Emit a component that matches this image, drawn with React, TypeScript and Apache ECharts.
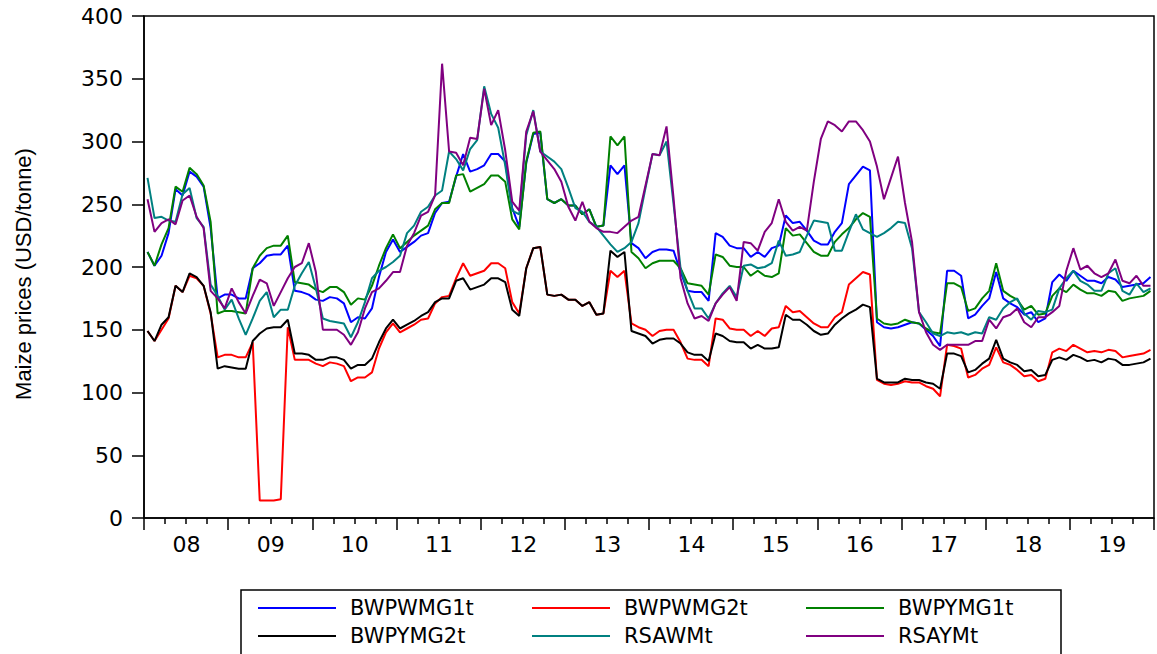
import React, { useEffect, useRef } from "react";
import * as echarts from "echarts";

// Monthly maize prices, Jan 2008 - Dec 2019 (USD/tonne)
const yearLabels = ["08", "09", "10", "11", "12", "13", "14", "15", "16", "17", "18", "19"];

const BWPWMG1t = [
  212, 201, 209, 227, 262, 257, 276, 272, 264, 231, 175, 178,
  178, 175, 175, 199, 203, 209, 210, 210, 217, 181, 180, 178,
  174, 173, 176, 175, 171, 156, 160, 159, 167, 192, 212, 222,
  212, 216, 220, 225, 227, 243, 251, 252, 272, 290, 276, 278,
  281, 290, 290, 284, 247, 232, 283, 306, 307, 254, 251, 254,
  249, 249, 242, 246, 232, 233, 281, 274, 281, 219, 215, 207,
  212, 214, 214, 213, 196, 181, 180, 180, 173, 227, 224, 217,
  215, 215, 208, 212, 208, 215, 217, 241, 235, 236, 229, 221,
  218, 218, 228, 235, 266, 273, 280, 277, 156, 152, 151, 152,
  154, 156, 155, 150, 145, 137, 197, 197, 193, 159, 162, 169,
  175, 196, 175, 171, 168, 162, 164, 156, 159, 188, 194, 189,
  197, 193, 189, 189, 187, 192, 190, 184, 185, 186, 187, 192,
];

const BWPWMG2t = [
  149, 141, 150, 159, 185, 180, 193, 191, 185, 163, 128, 130,
  130, 128, 128, 140, 14, 14, 14, 15, 152, 126, 126, 126,
  123, 121, 124, 123, 121, 109, 112, 112, 116, 135, 148, 155,
  148, 151, 154, 158, 159, 171, 176, 177, 191, 203, 193, 195,
  197, 203, 203, 199, 172, 163, 199, 215, 216, 178, 177, 178,
  174, 174, 169, 172, 162, 163, 197, 192, 197, 155, 152, 150,
  145, 149, 150, 150, 140, 127, 126, 126, 121, 159, 158, 151,
  150, 150, 145, 149, 145, 151, 152, 169, 164, 165, 160, 155,
  152, 152, 160, 164, 186, 191, 196, 194, 110, 107, 106, 107,
  109, 108, 108, 105, 103, 97, 138, 137, 135, 112, 114, 119,
  122, 136, 124, 122, 118, 113, 114, 109, 111, 132, 135, 133,
  138, 135, 132, 133, 132, 134, 133, 128, 129, 130, 131, 134,
];

const BWPYMG1t = [
  212, 201, 218, 231, 264, 260, 279, 274, 265, 236, 163, 165,
  165, 164, 163, 199, 209, 215, 217, 217, 225, 188, 187, 186,
  182, 180, 184, 184, 180, 170, 175, 174, 185, 201, 215, 226,
  215, 220, 225, 229, 233, 246, 251, 251, 273, 274, 260, 263,
  266, 273, 273, 268, 238, 230, 284, 307, 308, 254, 251, 254,
  249, 249, 242, 246, 232, 233, 304, 297, 304, 212, 207, 199,
  203, 205, 205, 205, 199, 187, 186, 185, 178, 210, 208, 201,
  200, 200, 193, 197, 193, 192, 195, 231, 225, 226, 219, 212,
  209, 209, 220, 226, 231, 238, 243, 240, 159, 155, 154, 155,
  158, 156, 155, 151, 148, 147, 187, 187, 184, 165, 167, 175,
  181, 203, 181, 177, 174, 166, 169, 162, 163, 177, 183, 180,
  186, 182, 179, 179, 177, 181, 180, 173, 175, 176, 177, 181,
];

const BWPYMG2t = [
  149, 141, 154, 160, 185, 180, 195, 192, 185, 164, 119, 121,
  120, 119, 119, 141, 147, 151, 152, 152, 158, 131, 131, 130,
  126, 126, 128, 128, 126, 119, 122, 122, 127, 140, 151, 158,
  151, 154, 157, 161, 164, 172, 175, 175, 189, 191, 182, 184,
  186, 191, 191, 188, 166, 161, 199, 215, 216, 178, 177, 178,
  174, 174, 169, 172, 162, 163, 213, 208, 212, 149, 147, 145,
  139, 142, 143, 143, 139, 132, 130, 130, 125, 147, 145, 141,
  140, 140, 135, 138, 135, 135, 136, 162, 158, 158, 154, 149,
  146, 147, 154, 159, 163, 166, 170, 168, 111, 108, 108, 108,
  111, 110, 110, 108, 107, 103, 131, 131, 129, 116, 118, 123,
  127, 142, 127, 124, 122, 117, 118, 113, 114, 126, 128, 126,
  130, 128, 125, 126, 124, 127, 126, 122, 122, 123, 124, 127,
];

const RSAWMt = [
  271, 239, 240, 237, 236, 258, 263, 239, 232, 186, 177, 166,
  174, 159, 146, 159, 173, 180, 160, 166, 166, 185, 195, 204,
  183, 159, 157, 156, 155, 144, 156, 172, 191, 197, 200, 204,
  209, 227, 233, 244, 248, 257, 261, 292, 286, 277, 294, 301,
  344, 322, 311, 281, 245, 242, 305, 325, 292, 288, 284, 278,
  263, 247, 244, 236, 232, 225, 218, 212, 215, 220, 235, 263,
  290, 289, 300, 250, 199, 181, 167, 167, 159, 171, 179, 185,
  176, 201, 202, 199, 200, 203, 221, 209, 210, 212, 225, 237,
  236, 235, 213, 213, 228, 242, 230, 227, 224, 227, 231, 236,
  235, 215, 164, 156, 147, 145, 148, 147, 148, 146, 148, 147,
  160, 158, 167, 172, 175, 163, 158, 165, 164, 166, 183, 191,
  197, 189, 186, 181, 181, 195, 199, 181, 178, 187, 180, 183,
];

const RSAYMt = [
  254, 228, 235, 238, 234, 253, 257, 240, 231, 181, 175, 167,
  183, 172, 163, 177, 190, 187, 169, 180, 191, 200, 203, 219,
  196, 150, 150, 150, 146, 138, 148, 167, 180, 183, 189, 196,
  196, 217, 227, 241, 244, 257, 362, 292, 291, 281, 303, 302,
  342, 313, 325, 293, 252, 245, 308, 324, 292, 285, 278, 268,
  248, 237, 252, 236, 231, 228, 228, 227, 232, 237, 240, 265,
  290, 289, 312, 255, 191, 171, 159, 161, 157, 171, 178, 184,
  173, 220, 219, 213, 228, 235, 254, 236, 229, 232, 229, 268,
  302, 316, 313, 308, 316, 316, 309, 300, 280, 254, 271, 288,
  251, 220, 164, 148, 138, 134, 138, 138, 138, 138, 141, 141,
  158, 151, 160, 162, 167, 156, 152, 160, 160, 164, 169, 197,
  215, 198, 201, 195, 192, 195, 206, 189, 187, 193, 185, 185,
];

const seriesNames = ["BWPWMG1t", "BWPWMG2t", "BWPYMG1t", "BWPYMG2t", "RSAWMt", "RSAYMt"];
const seriesValues = [BWPWMG1t, BWPWMG2t, BWPYMG1t, BWPYMG2t, RSAWMt, RSAYMt];
const seriesColors = ["#0000ff", "#ff0000", "#008000", "#000000", "#008080", "#800080"];

const FONT_NUM = "'DejaVu Sans', sans-serif";
const FONT_TXT = "'Liberation Sans', Arial, sans-serif";

export default function App() {
  const ref = useRef<HTMLDivElement>(null);

  useEffect(() => {
    if (!ref.current) return;
    const chart = echarts.init(ref.current, undefined, { renderer: "svg" });

    const series = seriesValues.map((vals, k) => ({
      name: seriesNames[k],
      type: "line",
      data: vals.map((v, i) => [i + 0.5, v]),
      showSymbol: false,
      symbol: "none",
      clip: true,
      lineStyle: { color: seriesColors[k], width: 2 },
      itemStyle: { color: seriesColors[k] },
      z: 2 + k,
    }));

    // legend drawn as box with samples
    const colX = [258, 532, 806];
    const rowY = [608, 636];
    const legendChildren: any[] = [
      {
        type: "rect",
        shape: { x: 241, y: 590, width: 820, height: 75 },
        style: { fill: "#fff", stroke: "#000", lineWidth: 1.5 },
      },
    ];
    seriesNames.forEach((name, k) => {
      const cx = colX[k % 3];
      const cy = rowY[Math.floor(k / 3)];
      legendChildren.push({
        type: "line",
        shape: { x1: cx, y1: cy, x2: cx + 78, y2: cy },
        style: { stroke: seriesColors[k], lineWidth: 2 },
      });
      legendChildren.push({
        type: "text",
        x: cx + 92,
        y: cy,
        style: {
          text: name,
          fill: "#000",
          font: `21px ${FONT_NUM}`,
          textVerticalAlign: "middle",
          textAlign: "left",
        },
      });
    });

    chart.setOption({
      animation: false,
      backgroundColor: "#fff",
      grid: {
        left: 144,
        top: 16,
        width: 1018,
        height: 502,
        show: true,
        borderColor: "#000",
        borderWidth: 1.5,
        backgroundColor: "transparent",
      },
      xAxis: {
        type: "value",
        min: 0,
        max: 144,
        interval: 12,
        axisLine: { show: true, lineStyle: { color: "#000", width: 1.5 } },
        axisTick: { show: true, length: 12, lineStyle: { color: "#000", width: 1.5 } },
        minorTick: { show: true, splitNumber: 4, length: 6, lineStyle: { color: "#000", width: 1.5 } },
        splitLine: { show: false },
        minorSplitLine: { show: false },
        axisLabel: {
          margin: 15,
          color: "#000",
          fontSize: 22,
          fontFamily: FONT_NUM,
          formatter: (v: number) => {
            const k = Math.round(v / 12);
            return k < yearLabels.length ? `{y|${yearLabels[k]}}` : "";
          },
          rich: {
            y: {
              fontSize: 22,
              fontFamily: FONT_NUM,
              color: "#000",
              padding: [0, 0, 0, 85],
            },
          },
        },
      },
      yAxis: {
        type: "value",
        min: 0,
        max: 400,
        interval: 50,
        name: "Maize prices (USD/tonne)",
        nameLocation: "middle",
        nameGap: 110,
        nameTextStyle: {
          color: "#000",
          fontSize: 22,
          fontFamily: FONT_TXT,
          padding: [0, 14, 0, 0],
        },
        axisLine: { show: true, lineStyle: { color: "#000", width: 1.5 } },
        axisTick: { show: true, length: 12, lineStyle: { color: "#000", width: 1.5 } },
        splitLine: { show: false },
        axisLabel: { margin: 21, color: "#000", fontSize: 22, fontFamily: FONT_NUM },
      },
      series,
      graphic: [{ type: "group", children: legendChildren }],
    });

    return () => chart.dispose();
  }, []);

  return (
    <div
      ref={ref}
      style={{ position: "fixed", left: 0, top: 0, width: 1157, height: 654, background: "#fff" }}
    />
  );
}
